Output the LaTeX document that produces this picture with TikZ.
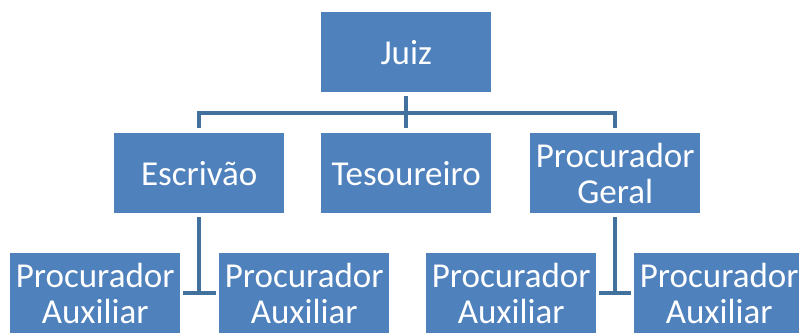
\documentclass[tikz,border=0pt]{standalone}
\usepackage{fontspec}
\setmainfont{Carlito}
\definecolor{boxblue}{HTML}{4F81BD}
\definecolor{linkblue}{HTML}{41719C}
\begin{document}
\begin{tikzpicture}[x=1pt,y=-1pt,
  orgbox/.style={fill=boxblue, minimum width=170pt, minimum height=80pt, inner sep=0pt,
    text=white, font=\fontsize{35}{36}\selectfont, align=center, anchor=north west},
  link/.style={draw=linkblue, line width=3.5pt}]
\useasboundingbox (0,0) rectangle (799,332);
\clip (0,0) rectangle (799,332);
\node[orgbox] (juiz) at (321,12) {Juiz};
\node[orgbox] (esc) at (114,133) {Escrivão};
\node[orgbox] (tes) at (321,133) {Tesoureiro};
\node[orgbox] (pg) at (530,133) {Procurador\\Geral};
\node[orgbox] (a1) at (10,253) {Procurador\\Auxiliar};
\node[orgbox] (a2) at (219,253) {Procurador\\Auxiliar};
\node[orgbox] (a3) at (426,253) {Procurador\\Auxiliar};
\node[orgbox] (a4) at (634,253) {Procurador\\Auxiliar};
\coordinate (bar) at (406,113);
\draw[link] ([yshift=-4pt]juiz.south) -- ([yshift=5pt]tes.north);
\draw[link] ([yshift=5pt]esc.north) |- (bar) -| ([yshift=5pt]pg.north);
\draw[link] ([yshift=-4pt]esc.south) -- (esc.south |- a1.east);
\draw[link] ([xshift=3pt]a1.east) -- ([xshift=-3pt]a2.west);
\draw[link] ([yshift=-4pt]pg.south) -- (pg.south |- a3.east);
\draw[link] ([xshift=3pt]a3.east) -- ([xshift=-3pt]a4.west);
\end{tikzpicture}
\end{document}
